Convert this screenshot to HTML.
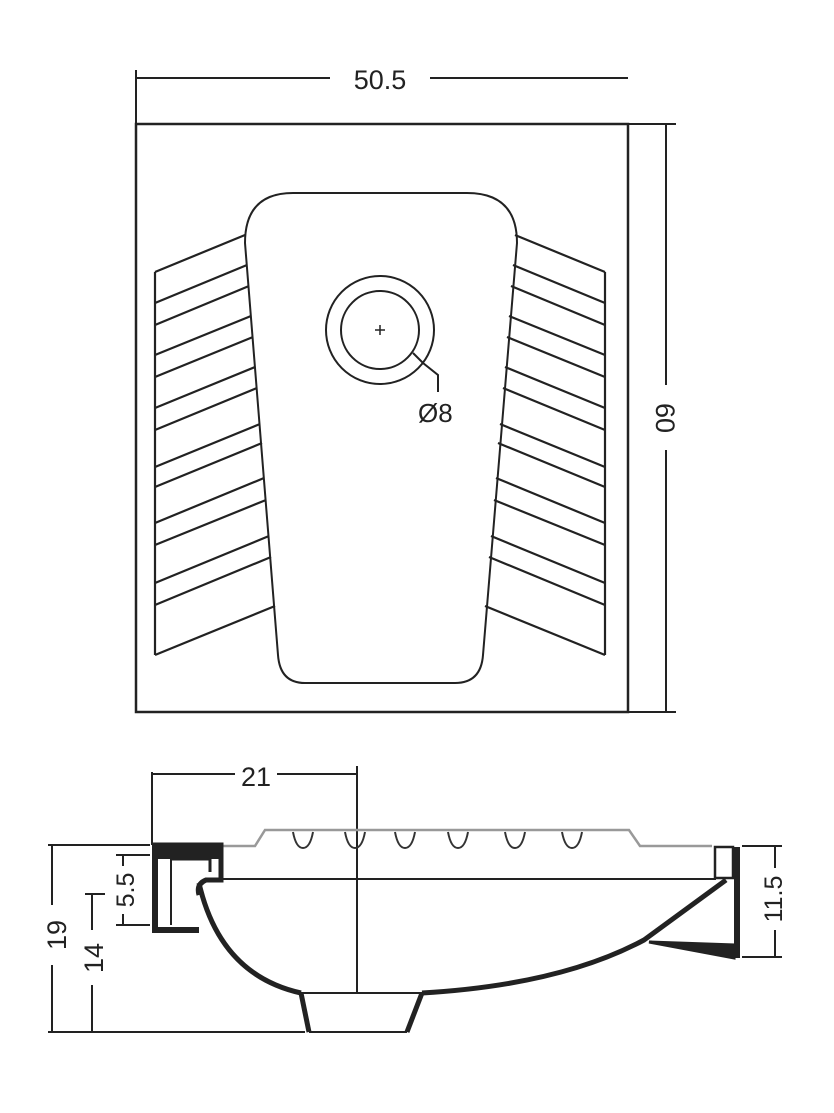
<!DOCTYPE html>
<html><head><style>html,body{margin:0;padding:0;background:#fff}svg{display:block}</style></head>
<body>
<svg width="834" height="1113" viewBox="0 0 834 1113" xmlns="http://www.w3.org/2000/svg" font-family="Liberation Sans, sans-serif" fill="none" stroke="#222">
<!-- top view -->
<rect x="136" y="124" width="492" height="588" stroke-width="2.5"/>
<line x1="136" y1="70" x2="136" y2="124" stroke-width="2"/>
<line x1="136" y1="78" x2="330" y2="78" stroke-width="2"/>
<line x1="430" y1="78" x2="628" y2="78" stroke-width="2"/>
<text x="380" y="89" font-size="27" text-anchor="middle" fill="#222" stroke="none">50.5</text>
<line x1="628" y1="124" x2="676" y2="124" stroke-width="2"/>
<line x1="628" y1="712" x2="676" y2="712" stroke-width="2"/>
<line x1="666" y1="124" x2="666" y2="385" stroke-width="2"/>
<line x1="666" y1="450" x2="666" y2="712" stroke-width="2"/>
<text transform="translate(656,418) rotate(90)" font-size="27" text-anchor="middle" fill="#222" stroke="none">60</text>
<path d="M293,193 L467,193 Q517,193 517,243 L483,655 Q481,683 455,683 L305,683 Q280,683 278,655 L245,243 Q245,193 293,193 Z" stroke-width="2"/>
<circle cx="380" cy="330" r="54" stroke-width="2"/>
<circle cx="380" cy="330" r="39" stroke-width="2"/>
<path d="M375,330h10M380,325v10" stroke-width="1.5"/>
<path d="M413,353 L423,363 L438,375 L438,392" stroke-width="2"/>
<text x="418" y="422" font-size="26" fill="#222" stroke="none">Ø8</text>
<g id="h" stroke-width="2.2">
<line x1="155" y1="272" x2="155" y2="655"/>
<line x1="155" y1="272" x2="245" y2="235"/>
<line x1="155" y1="303" x2="247" y2="265"/>
<line x1="155" y1="325" x2="249" y2="286"/>
<line x1="155" y1="355" x2="251" y2="316"/>
<line x1="155" y1="377" x2="253" y2="337"/>
<line x1="155" y1="408" x2="255" y2="367"/>
<line x1="155" y1="430" x2="257" y2="388"/>
<line x1="155" y1="467" x2="260" y2="424"/>
<line x1="155" y1="487" x2="262" y2="443"/>
<line x1="155" y1="523" x2="264" y2="478"/>
<line x1="155" y1="545" x2="266" y2="500"/>
<line x1="155" y1="583" x2="269" y2="536"/>
<line x1="155" y1="605" x2="271" y2="557"/>
<line x1="155" y1="655" x2="275" y2="606"/>
</g>
<g transform="translate(760,0) scale(-1,1)"><use href="#h"/></g>
<!-- side view -->
<line x1="152" y1="772" x2="152" y2="845" stroke-width="2"/>
<line x1="152" y1="774" x2="235" y2="774" stroke-width="2"/>
<line x1="277" y1="774" x2="357" y2="774" stroke-width="2"/>
<text x="256" y="786" font-size="27" text-anchor="middle" fill="#222" stroke="none">21</text>
<line x1="357" y1="766" x2="357" y2="993" stroke-width="2"/>
<!-- rim -->
<path d="M221,846 L255,846 L265,830 L629,830 L640,846 L712,846" stroke="#999" stroke-width="2.5"/>
<g stroke="#333" stroke-width="2">
<path d="M293,832 Q296,848 303,848 Q310,848 313,832"/>
<path d="M345,832 Q348,848 355,848 Q362,848 365,832"/>
<path d="M395,832 Q398,848 405,848 Q412,848 415,832"/>
<path d="M448,832 Q451,848 458,848 Q465,848 468,832"/>
<path d="M505,832 Q508,848 515,848 Q522,848 525,832"/>
<path d="M562,832 Q565,848 572,848 Q579,848 582,832"/>
</g>
<!-- left block -->
<path d="M152,845 L221,845 L221,880 L206,880 Q196,884 199,895" stroke-width="5"/>
<rect x="152" y="845" width="69" height="14" fill="#222" stroke="none"/>
<path d="M155,845 V930 H199" stroke-width="6"/>
<path d="M171,859 V925" stroke-width="2"/>
<path d="M171,859 H210 V872" stroke-width="3"/>
<line x1="221" y1="879" x2="716" y2="879" stroke-width="2"/>
<!-- bowl -->
<path d="M199,883 Q220,975 301,993" stroke-width="5"/>
<path d="M422,993 Q560,985 644,940 L726,880" stroke-width="5"/>
<line x1="301" y1="993" x2="422" y2="993" stroke-width="2"/>
<path d="M301,993 L309,1032" stroke-width="5"/>
<path d="M422,993 L407,1032" stroke-width="5"/>
<line x1="309" y1="1032" x2="407" y2="1032" stroke-width="2"/>
<!-- right block -->
<rect x="715" y="847" width="18" height="31" stroke-width="2.5"/>
<line x1="737" y1="847" x2="737" y2="958" stroke-width="6"/>
<path d="M649,942 L734,945 L734,958 Z" fill="#222" stroke-width="3"/>
<!-- right dim -->
<line x1="742" y1="846" x2="782" y2="846" stroke-width="2"/>
<line x1="742" y1="957" x2="782" y2="957" stroke-width="2"/>
<line x1="775" y1="846" x2="775" y2="868" stroke-width="2"/>
<line x1="775" y1="930" x2="775" y2="957" stroke-width="2"/>
<text transform="translate(782,899) rotate(-90)" font-size="25" text-anchor="middle" fill="#222" stroke="none">11.5</text>
<!-- left dims -->
<line x1="48" y1="845" x2="150" y2="845" stroke-width="2"/>
<line x1="52" y1="845" x2="52" y2="905" stroke-width="2"/>
<line x1="52" y1="965" x2="52" y2="1032" stroke-width="2"/>
<line x1="48" y1="1032" x2="305" y2="1032" stroke-width="2"/>
<text transform="translate(66,935) rotate(-90)" font-size="27" text-anchor="middle" fill="#222" stroke="none">19</text>
<line x1="85" y1="894" x2="105" y2="894" stroke-width="2"/>
<line x1="92" y1="894" x2="92" y2="930" stroke-width="2"/>
<line x1="92" y1="985" x2="92" y2="1032" stroke-width="2"/>
<text transform="translate(103,958) rotate(-90)" font-size="27" text-anchor="middle" fill="#222" stroke="none">14</text>
<line x1="116" y1="855" x2="150" y2="855" stroke-width="2"/>
<line x1="116" y1="925" x2="150" y2="925" stroke-width="2"/>
<line x1="123" y1="855" x2="123" y2="866" stroke-width="2"/>
<line x1="123" y1="914" x2="123" y2="925" stroke-width="2"/>
<text transform="translate(134,890) rotate(-90)" font-size="25" text-anchor="middle" fill="#222" stroke="none">5.5</text>
</svg>
</body></html>
